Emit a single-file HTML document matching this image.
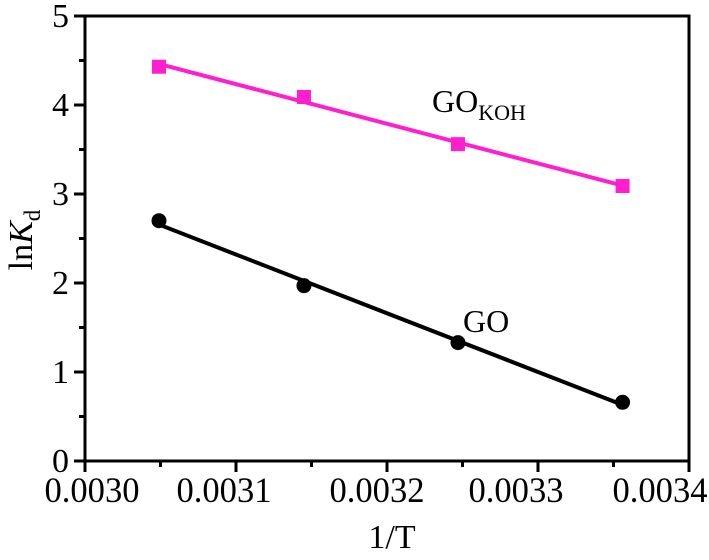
<!DOCTYPE html>
<html><head><meta charset="utf-8"><style>
html,body{margin:0;padding:0;background:#fff;}
svg text{font-family:"Liberation Serif",serif;fill:#000;}
</style></head><body>
<svg id="chart" width="709" height="555" viewBox="0 0 709 555" xmlns="http://www.w3.org/2000/svg"></svg>
<script>
const invT = [0.003049, 0.003145, 0.003247, 0.003356];
const lnKdGOKOH = [4.43, 4.09, 3.56, 3.09];
const lnKdGO = [2.70, 1.97, 1.33, 0.66];
const xTicks = [0.0030, 0.0031, 0.0032, 0.0033, 0.0034];
const xTickLabels = ["0.0030", "0.0031", "0.0032", "0.0033", "0.0034"];
const yTicks = [0, 1, 2, 3, 4, 5];
const yTickLabels = ["0", "1", "2", "3", "4", "5"];

const L=85,R=689,T=16,B=461;
const labelShift=[7,-12,-10,-22,-29];
const xs=v=>L+(v-0.0030)/0.0004*(R-L);
const ys=v=>B-v/5*(B-T);
const svg=document.getElementById('chart');
const NS='http://www.w3.org/2000/svg';
function mk(tag,attrs,parent){const e=document.createElementNS(NS,tag);for(const k in attrs)e.setAttribute(k,attrs[k]);(parent||svg).appendChild(e);return e;}

const frame=mk('rect',{x:L,y:T,width:R-L,height:B-T,fill:'none',stroke:'#000','stroke-width':3});



xTicks.forEach((v,i)=>{
  const x=xs(v);
  const t=mk('line',{x1:x,y1:B,x2:x,y2:B+11,stroke:'#000','stroke-width':3});
  
  
  if(i<xTicks.length-1){const xm=xs(v+0.00005);const m=mk('line',{x1:xm,y1:B,x2:xm,y2:B+6,stroke:'#000','stroke-width':3});
    
    }
  const lb=mk('text',{x:x+labelShift[i],y:502,'font-size':36,'text-anchor':'middle',textLength:95,lengthAdjust:'spacingAndGlyphs'});lb.textContent=xTickLabels[i];
  
  
});
yTicks.forEach((v,i)=>{
  const y=ys(v);
  const t=mk('line',{x1:L-11,y1:y,x2:L,y2:y,stroke:'#000','stroke-width':3});
  
  
  if(i<yTicks.length-1){const ym=ys(v+0.5);const m=mk('line',{x1:L-6,y1:ym,x2:L,y2:ym,stroke:'#000','stroke-width':3});
    
    }
  const lb=mk('text',{x:69,y:y+11,'font-size':34,'text-anchor':'end'});lb.textContent=yTickLabels[i];
  
  
});

function fit(xv,yv){const n=xv.length;let sx=0,sy=0,sxx=0,sxy=0;for(let i=0;i<n;i++){sx+=xv[i];sy+=yv[i];sxx+=xv[i]*xv[i];sxy+=xv[i]*yv[i];}
  const b=(n*sxy-sx*sy)/(n*sxx-sx*sx);return [b,(sy-b*sx)/n];}
function series(yv,color,shape,name){
  const [b,a]=fit(invT,yv);
  const x0=invT[0],x1=invT[invT.length-1];
  const ln=mk('line',{x1:xs(x0),y1:ys(a+b*x0),x2:xs(x1),y2:ys(a+b*x1),stroke:color,'stroke-width':4});
  
  
  invT.forEach((xv,i)=>{
    let p;
    if(shape==='square')p=mk('rect',{x:xs(xv)-7,y:ys(yv[i])-7,width:14,height:14,fill:color});
    else p=mk('circle',{cx:xs(xv),cy:ys(yv[i]),r:7.5,fill:color});
    
    
  });
}
series(lnKdGOKOH,'#ff1fcf','square','gokoh');
series(lnKdGO,'#000','circle','go');

const l1=mk('text',{x:432,y:112,'font-size':32});l1.innerHTML='GO<tspan font-size="22" dy="8">KOH</tspan>';


const l2=mk('text',{x:463,y:332,'font-size':32});l2.textContent='GO';



const xt=mk('text',{x:392,y:548,'font-size':34,'text-anchor':'middle'});xt.textContent='1/T';


const yt=mk('text',{x:0,y:0,'font-size':34,'text-anchor':'middle',transform:'translate(32,240) rotate(-90)'});
yt.innerHTML='ln<tspan font-style="italic">K</tspan><tspan font-size="23" dy="8">d</tspan>';


</script>
</body></html>
